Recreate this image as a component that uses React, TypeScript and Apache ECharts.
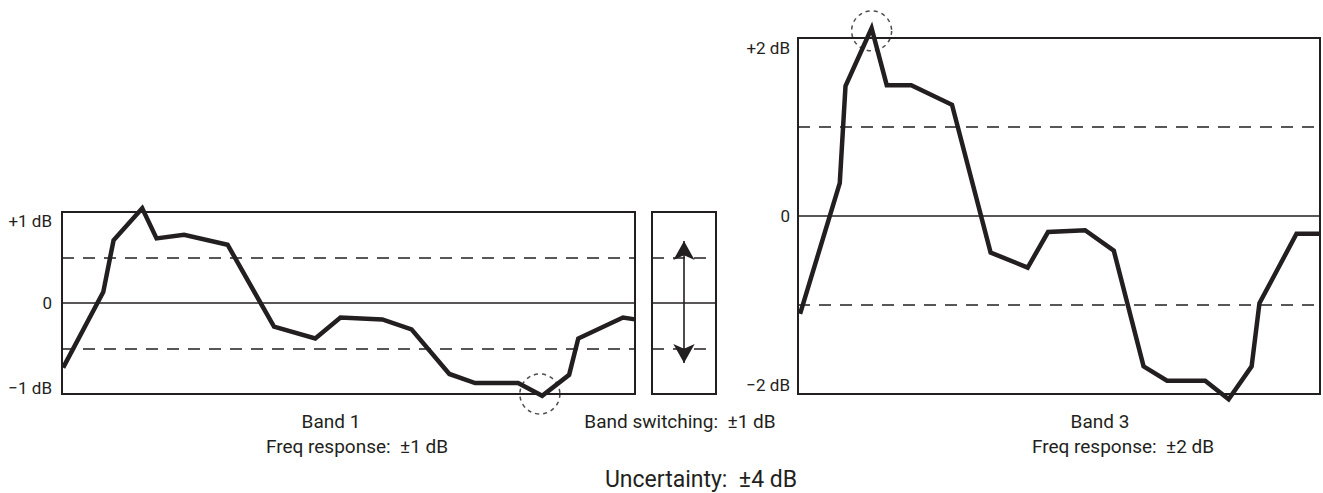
import React, { useEffect, useRef } from "react";
import * as echarts from "echarts";

const INK = "#231f20";
const FONT = "Roboto, 'Liberation Sans', sans-serif";

// Band 1 response: frequency position within the band (%), deviation (dB)
const band1Freq = [0.2, 7.2, 9.0, 14.0, 16.5, 21.3, 28.9, 37.0, 44.2, 48.6, 55.9, 61.0, 67.6, 72.1, 79.6, 83.8, 88.5, 90.1, 97.9, 100];
const band1Resp = [-0.71, 0.12, 0.69, 1.04, 0.71, 0.75, 0.64, -0.26, -0.39, -0.16, -0.18, -0.29, -0.78, -0.88, -0.88, -1.02, -0.79, -0.39, -0.16, -0.18];

// Band 3 response
const band3Freq = [0.4, 8.0, 9.1, 14.1, 17.0, 21.7, 29.5, 36.9, 44.0, 47.9, 55.0, 60.5, 66.2, 70.7, 78.0, 82.5, 86.9, 88.4, 95.5, 100];
const band3Resp = [-1.10, 0.37, 1.46, 2.11, 1.47, 1.47, 1.25, -0.41, -0.58, -0.18, -0.16, -0.39, -1.69, -1.85, -1.85, -2.06, -1.69, -0.98, -0.20, -0.20];

// Axis ticks
const band1TickValues = [-1, 0, 1];
const band1TickLabels = ["\u22121 dB", "0", "+1 dB"];
const band3TickValues = [-2, 0, 2];
const band3TickLabels = ["\u22122 dB", "0", "+2 dB"];

// Reference lines (dB)
const band1Limits = [-0.5, 0.5];
const band3Limits = [-1, 1];
const switchLimits = [-0.5, 0.5];
const switchArrow = [-0.66, 0.68];

// Highlighted extreme points (freq %, dB)
const band1Marker = [83.4, -1.0];
const band3Marker = [14.1, 2.08];

// Captions
const band1Caption = ["Band 1", "Freq response:  \u00b11 dB"];
const switchCaption = "Band switching:  \u00b11 dB";
const band3Caption = ["Band 3", "Freq response:  \u00b12 dB"];
const totalCaption = "Uncertainty:  \u00b14 dB";

function pairs(xs: number[], ys: number[]) {
  return xs.map((x, i) => [x, ys[i]]);
}

function refLines(limits: number[]) {
  return [
    { yAxis: 0, lineStyle: { type: "solid", width: 1.6, color: INK } },
    ...limits.map((v) => ({ yAxis: v, lineStyle: { type: [12, 9], width: 1.6, color: INK } })),
  ];
}

function tickFormatter(values: number[], labels: string[], min: number, max: number) {
  return (v: number) => {
    const i = values.indexOf(v);
    if (i < 0) return "";
    const text = labels[i];
    if (v === max) return `{t|${text}}`;
    if (v === min) return `{b|${text}}`;
    return `{m|${text}}`;
  };
}

function labelRich(topPad: number, bottomPad: number) {
  const base = { fontSize: 17, fontFamily: FONT, color: INK };
  return {
    t: { ...base, padding: [topPad, 0, 0, 0] },
    b: { ...base, padding: [0, 0, bottomPad, 0] },
    m: { ...base },
  };
}

const gridStyle = { show: true, borderColor: INK, borderWidth: 2, backgroundColor: "transparent" };

export default function App() {
  const ref = useRef<HTMLDivElement>(null);

  useEffect(() => {
    if (!ref.current) return;
    const chart = echarts.init(ref.current, null, { renderer: "svg" });
    const captionStyle = (text: string, size: number) => ({
      text,
      font: `${size}px ${FONT}`,
      fill: INK,
      align: "center",
      verticalAlign: "middle",
      textAlign: "center",
      textVerticalAlign: "middle",
    });
    const option: any = {
      animation: false,
      backgroundColor: "#ffffff",
      grid: [
        { ...gridStyle, left: 62, top: 212, width: 573, height: 182 },
        { ...gridStyle, left: 652, top: 212, width: 64, height: 182 },
        { ...gridStyle, left: 798, top: 38, width: 522, height: 356 },
      ],
      xAxis: [0, 1, 2].map((g) => ({
        type: "value",
        gridIndex: g,
        min: 0,
        max: 100,
        show: false,
      })),
      yAxis: [
        {
          type: "value",
          gridIndex: 0,
          min: -1,
          max: 1,
          interval: 1,
          axisLine: { show: false },
          axisTick: { show: false },
          splitLine: { show: false },
          axisLabel: {
            margin: 10,
            formatter: tickFormatter(band1TickValues, band1TickLabels, -1, 1),
            rich: labelRich(18, 13),
          },
        },
        {
          type: "value",
          gridIndex: 1,
          min: -1,
          max: 1,
          show: false,
          splitLine: { show: false },
        },
        {
          type: "value",
          gridIndex: 2,
          min: -2,
          max: 2,
          interval: 2,
          axisLine: { show: false },
          axisTick: { show: false },
          splitLine: { show: false },
          axisLabel: {
            margin: 8,
            formatter: tickFormatter(band3TickValues, band3TickLabels, -2, 2),
            rich: labelRich(20, 18),
          },
        },
      ],
      series: [
        {
          type: "line",
          xAxisIndex: 0,
          yAxisIndex: 0,
          data: pairs(band1Freq, band1Resp),
          showSymbol: false,
          clip: false,
          lineStyle: { color: INK, width: 4.5, join: "miter" },
          z: 5,
          markLine: {
            silent: true,
            symbol: "none",
            label: { show: false },
            data: refLines(band1Limits),
          },
        },
        {
          type: "line",
          xAxisIndex: 1,
          yAxisIndex: 1,
          data: [],
          showSymbol: false,
          markLine: {
            silent: true,
            symbol: "none",
            label: { show: false },
            data: [
              ...refLines(switchLimits),
              [
                { coord: [50, switchArrow[0]], symbol: "arrow", symbolSize: [16, 19], lineStyle: { type: "solid", width: 1.6, color: INK } },
                { coord: [50, switchArrow[1]], symbol: "arrow", symbolSize: [16, 19] },
              ],
            ],
          },
        },
        {
          type: "line",
          xAxisIndex: 2,
          yAxisIndex: 2,
          data: pairs(band3Freq, band3Resp),
          showSymbol: false,
          clip: false,
          lineStyle: { color: INK, width: 4.5, join: "miter" },
          z: 5,
          markLine: {
            silent: true,
            symbol: "none",
            label: { show: false },
            data: refLines(band3Limits),
          },
        },
        {
          type: "scatter",
          xAxisIndex: 0,
          yAxisIndex: 0,
          data: [band1Marker],
          symbol: "circle",
          symbolSize: 40,
          clip: false,
          silent: true,
          itemStyle: { color: "transparent", borderColor: INK, borderWidth: 1.5, borderType: [4, 4] },
          z: 6,
        },
        {
          type: "scatter",
          xAxisIndex: 2,
          yAxisIndex: 2,
          data: [band3Marker],
          symbol: "circle",
          symbolSize: 40,
          clip: false,
          silent: true,
          itemStyle: { color: "transparent", borderColor: INK, borderWidth: 1.5, borderType: [4, 4] },
          z: 6,
        },
      ],
      graphic: [
        { type: "text", x: 331, y: 421, style: captionStyle(band1Caption[0], 19) },
        { type: "text", x: 357, y: 446, style: captionStyle(band1Caption[1], 19) },
        { type: "text", x: 680, y: 421, style: captionStyle(switchCaption, 19) },
        { type: "text", x: 1100, y: 421, style: captionStyle(band3Caption[0], 19) },
        { type: "text", x: 1123, y: 446, style: captionStyle(band3Caption[1], 19) },
        { type: "text", x: 701, y: 479, style: captionStyle(totalCaption, 23) },
      ],
    };
    chart.setOption(option);
    return () => chart.dispose();
  }, []);

  return (
    <div
      ref={ref}
      style={{ position: "absolute", left: 0, top: 0, width: 1323, height: 493, background: "#fff" }}
    />
  );
}
